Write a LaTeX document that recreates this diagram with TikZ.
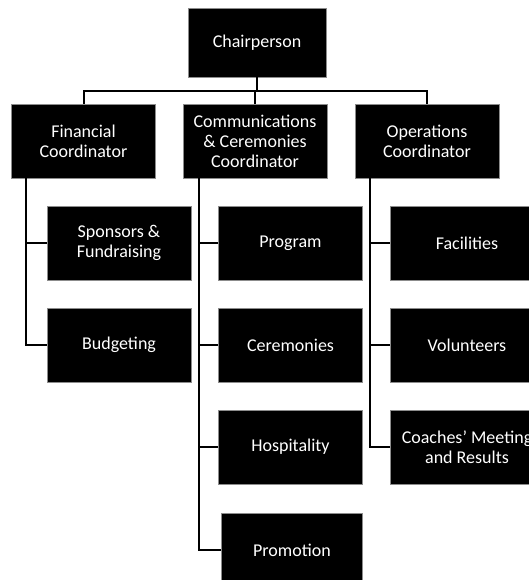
\documentclass[tikz,border=0pt]{standalone}
\usepackage{fontspec}
\setmainfont{Carlito}
\usetikzlibrary{positioning, calc}
\tikzset{
  every picture/.style={line width=2pt},
  box/.style={draw=black!45, line width=0.6pt, fill=black, text=white, align=center, inner sep=0pt, minimum width=144pt, minimum height=74pt, font=\fontsize{18}{20}\selectfont},
  link/.style={draw=black, line width=2pt},
}
\begin{document}
\begin{tikzpicture}[x=1pt, y=-1pt]
  \clip (0,0) rectangle (529,580);
  % chair and coordinators
  \node[box, minimum width=138pt, minimum height=69pt] (chair) at (257,42.5) {Chairperson};
  \foreach \n/\x/\t in {fin/83.5/{Financial\\Coordinator}, comm/255/{Communications\\\& Ceremonies\\Coordinator}, ops/427/{Operations\\Coordinator}} {
    \node[box] (\n) at (\x,141) {\t};
  }
  \coordinate (bus) at (257,91);
  \draw[link] (chair) -- (bus);
  \draw[link] (fin.north) |- (bus) -| (ops.north);
  \draw[link] (comm.north) -- (comm.north |- bus);
  % financial
  \foreach \n/\y/\t in {spons/243/{Sponsors \&\\Fundraising}, budg/345/Budgeting} {
    \node[box] (\n) at (119,\y) {\t};
    \draw[link] ([xshift=15pt]fin.south west) |- (\n.west);
  }
  % communications
  \foreach \n/\y/\t in {prog/243/Program, cere/345/Ceremonies, hosp/447/Hospitality} {
    \node[box] (\n) at (290.5,\y) {\t};
    \draw[link] ([xshift=16pt]comm.south west) |- (\n.west);
  }
  \node[box, minimum width=141pt] (promo) at (292,550) {Promotion};
  \draw[link] ([xshift=16pt]comm.south west) |- (promo.west);
  % operations
  \foreach \n/\y/\t in {fac/243/Facilities, vol/345/Volunteers, coach/447/{Coaches’ Meeting\\and Results}} {
    \node[box, minimum width=154pt] (\n) at (467,\y) {\t};
    \draw[link] ([xshift=15pt]ops.south west) |- (\n.west);
  }
\end{tikzpicture}
\end{document}
